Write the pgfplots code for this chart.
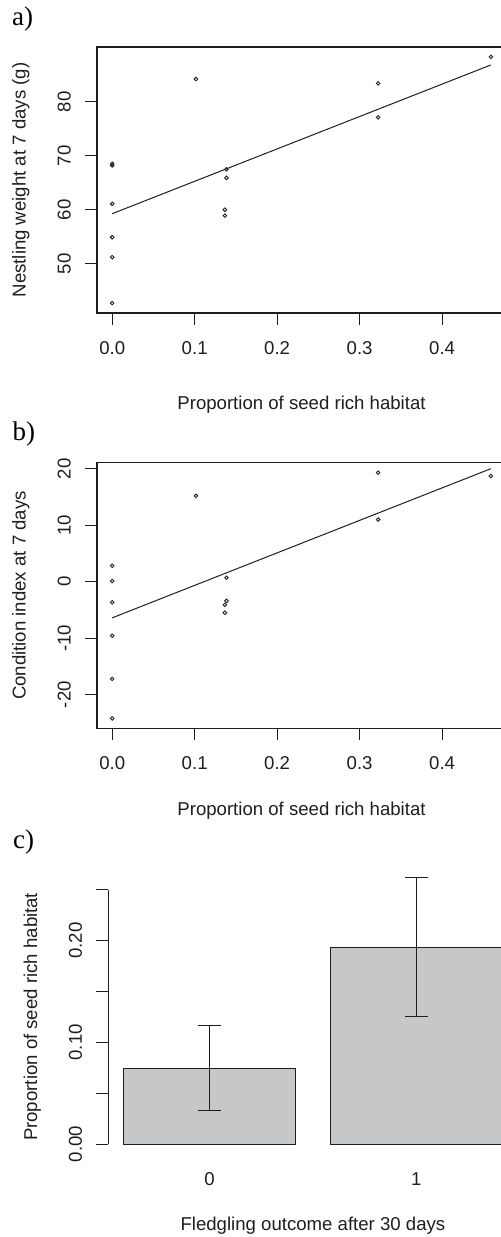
\documentclass[border=0pt]{standalone}
\usepackage{fontspec}
\setmainfont{Liberation Sans}
\newfontfamily\panelfont{Liberation Serif}
\usepackage{pgfplots}
\pgfplotsset{compat=1.18}

\definecolor{barfill}{RGB}{198,199,201}
\definecolor{ink}{RGB}{30,30,30}

% 1 px of the reference = 0.5pt
\pgfplotsset{
  rplot/.style={
    scale only axis,
    anchor=south west,
    axis line style={line width=0.6pt, ink},
    tick align=outside,
    major tick length=6pt,
    tick style={line width=0.5pt, ink},
    xtick pos=bottom, ytick pos=left,
    tick label style={font=\fontsize{9.3}{11}\selectfont, text=ink},
    label style={font=\fontsize{9.3}{11}\selectfont, text=ink},
    xticklabel style={anchor=base},
    xticklabel shift=14.75pt,
    yticklabel style={rotate=90, anchor=base},
    yticklabel shift=7.15pt,
  },
  scatterpanel/.style={
    rplot,
    width=204.5pt, height=133pt,
    xmin=-0.0184, xmax=0.4774,
    xtick={0,0.1,0.2,0.3,0.4},
    xticklabels={0.0,0.1,0.2,0.3,0.4},
    xlabel={Proportion of seed rich habitat},
    ylabel style={at={(axis description cs:-0.1744,0.5)}, anchor=base, rotate=0},
  },
  pts/.style={only marks, mark=o, mark size=0.9pt, mark options={line width=0.45pt, ink}},
}

\begin{document}
\begin{tikzpicture}

% a) nestling weight
\begin{axis}[scatterpanel,
    at={(48.5pt,-156.5pt)},
    ymin=40.87, ymax=90.13,
    ytick={50,60,70,80},
    yticklabels={50,60,70,80},
    ylabel={Nestling weight at 7 days (g)},
    xlabel style={at={(axis description cs:0.5,0)}, yshift=-48pt, anchor=base},
  ]
  \addplot[pts] coordinates {
    (0,42.7) (0,51.2) (0,54.9) (0,61.1) (0,68.5) (0,68.2)
    (0.1015,84.2) (0.1386,67.5) (0.1386,65.9) (0.1366,60.0) (0.1366,58.9)
    (0.3224,83.4) (0.3224,77.1) (0.459,88.3)
  };
  \addplot[ink, line width=0.5pt] coordinates {(0,59.26) (0.459,86.8)};
\end{axis}

% b) condition index
\begin{axis}[scatterpanel,
    at={(48.5pt,-364.15pt)},
    height=132.8pt,
    ymin=-25.95, ymax=21.06,
    ytick={-20,-10,0,10,20},
    yticklabels={-20,-10,0,10,20},
    ylabel={Condition index at 7 days},
    xlabel style={at={(axis description cs:0.5,0)}, yshift=-43.35pt, anchor=base},
  ]
  \addplot[pts] coordinates {
    (0,2.83) (0,0.12) (0,-3.65) (0,-9.56) (0,-17.2) (0,-24.2)
    (0.1015,15.2) (0.1386,0.7) (0.1386,-3.4) (0.1366,-4.1) (0.1366,-5.5)
    (0.3224,19.3) (0.3224,11.0) (0.459,18.7)
  };
  \addplot[ink, line width=0.5pt] coordinates {(0,-6.4) (0.459,20.0)};
\end{axis}

% c) fledgling outcome
\begin{axis}[rplot,
    at={(54.15pt,-572pt)},
    width=204.6pt, height=127.15pt,
    xmin=0.112, xmax=2.488,
    ymin=0, ymax=0.25,
    clip=false,
    axis line style={draw=none},
    xtick={0.7,1.9},
    xticklabels={0,1},
    xtick style={draw=none},
    xticklabel shift=14.5pt,
    ytick={0,0.05,0.10,0.15,0.20,0.25},
    yticklabels={0.00,,0.10,,0.20,},
    xlabel={Fledgling outcome after 30 days},
    ylabel={Proportion of seed rich habitat},
    xlabel style={at={(axis description cs:0.5,0)}, yshift=-43pt, anchor=base},
    ylabel style={at={(axis description cs:-0.1742,0.5)}, anchor=base, rotate=0},
  ]
  \addplot[ybar, bar width=1, fill=barfill, draw=ink, line width=0.5pt,
    error bars/.cd, y dir=both, y explicit,
    error bar style={line width=0.5pt, ink},
    error mark options={rotate=90, mark size=5.67pt, line width=0.5pt, ink}]
    coordinates {(0.7,0.0745) +- (0,0.0418) (1.9,0.1936) +- (0,0.068)};
  \draw[line width=0.6pt, ink] (rel axis cs:0,0) -- (rel axis cs:0,1);
\end{axis}

\node[anchor=base west, inner sep=0pt, font=\panelfont\fontsize{13.5}{15}\selectfont] at (5.85pt,-12.5pt) {a)};
\node[anchor=base west, inner sep=0pt, font=\panelfont\fontsize{13.5}{15}\selectfont] at (6.15pt,-220pt) {b)};
\node[anchor=base west, inner sep=0pt, font=\panelfont\fontsize{13.5}{15}\selectfont] at (6.35pt,-424.15pt) {c)};

\pgfresetboundingbox
\useasboundingbox (0,0) rectangle (250.5pt,-618.5pt);
\end{tikzpicture}
\end{document}
